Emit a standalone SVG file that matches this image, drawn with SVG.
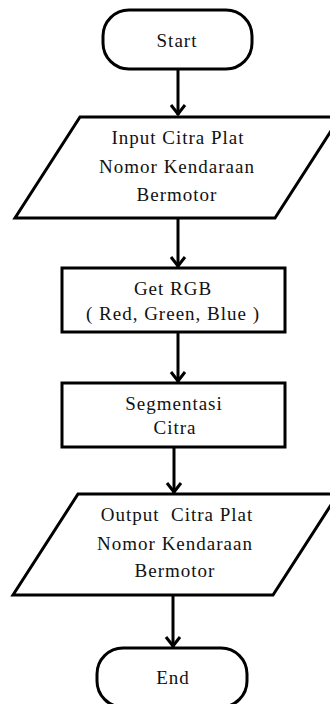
<svg xmlns="http://www.w3.org/2000/svg" width="330" height="704" viewBox="0 0 330 704">
<defs>
<style>
.s{fill:#fff;stroke:#000;stroke-width:3;stroke-linejoin:miter}
.t{font-family:'Liberation Serif','DejaVu Serif',serif;font-size:19px;letter-spacing:1px;fill:#111;text-anchor:middle}
.c{stroke:#000;stroke-width:3;fill:none}
</style>
<marker id="ah" markerUnits="userSpaceOnUse" viewBox="-12 -9 14 18" refX="0" refY="0" markerWidth="14" markerHeight="18" orient="auto" overflow="visible">
<path d="M-10,-7 L-1,0 L-10,7" fill="none" stroke="#000" stroke-width="3"/>
</marker>
</defs>
<g id="connectors">
<line class="c" x1="178" y1="69" x2="178" y2="115" marker-end="url(#ah)"/>
<line class="c" x1="178" y1="219" x2="178" y2="267" marker-end="url(#ah)"/>
<line class="c" x1="178" y1="332" x2="178" y2="382" marker-end="url(#ah)"/>
<line class="c" x1="174" y1="447" x2="174" y2="493" marker-end="url(#ah)"/>
<line class="c" x1="173" y1="596" x2="173" y2="647" marker-end="url(#ah)"/>
</g>
<g id="start">
<rect class="s" x="103" y="10" width="149" height="59" rx="26" ry="26"/>
<text class="t" x="177" y="47">Start</text>
</g>
<g id="input">
<polygon class="s" points="80,117 340,117 275,218 15,218"/>
<text class="t" x="178" y="144">Input Citra Plat</text>
<text class="t" x="177" y="173">Nomor Kendaraan</text>
<text class="t" x="177" y="201">Bermotor</text>
</g>
<g id="getrgb">
<rect class="s" x="62" y="268" width="223" height="64"/>
<text class="t" x="173" y="295">Get RGB</text>
<text class="t" x="173" y="320">( Red, Green, Blue )</text>
</g>
<g id="segmentasi">
<rect class="s" x="62" y="383" width="223" height="64"/>
<text class="t" x="174" y="410">Segmentasi</text>
<text class="t" x="175" y="434">Citra</text>
</g>
<g id="output">
<polygon class="s" points="78,494 338,494 273,595 13,595"/>
<text class="t" x="177" y="521" xml:space="preserve">Output  Citra Plat</text>
<text class="t" x="175" y="550">Nomor Kendaraan</text>
<text class="t" x="175" y="577">Bermotor</text>
</g>
<g id="end">
<rect class="s" x="97" y="648" width="150" height="59" rx="26" ry="26"/>
<text class="t" x="173" y="684">End</text>
</g>
</svg>
